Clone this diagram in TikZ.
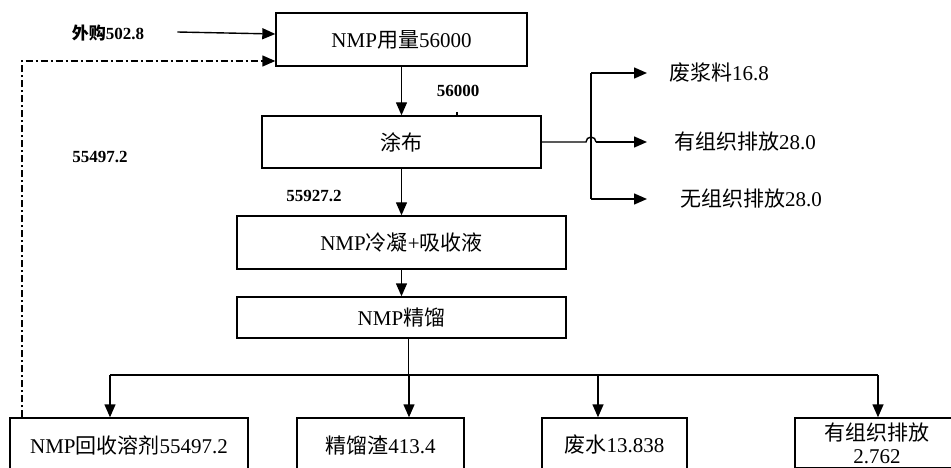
\documentclass[tikz,border=0pt]{standalone}
\usepackage{fontspec}
\setmainfont{Liberation Serif}
\newfontfamily\zhfont{Noto Sans CJK SC}
\newcommand{\zh}[1]{{\zhfont #1}}
\usetikzlibrary{arrows.meta}

\begin{document}
\begin{tikzpicture}[x=1pt,y=-1pt,
  box/.style={draw,line width=1.4pt,inner sep=0pt,font=\fontsize{21}{25}\selectfont},
  flow/.style={line width=1.4pt,-{Triangle[length=13pt,width=11pt]}},
  pipe/.style={line width=1.4pt},
  num/.style={font=\bfseries\fontsize{17}{20}\selectfont,inner sep=0pt},
  outlabel/.style={anchor=west,inner sep=0pt,font=\fontsize{21}{25}\selectfont}]
  \clip (0,0) rectangle (951,468);

  % Main line
  \node[box,minimum width=251pt,minimum height=53pt] (use) at (401.5,39.5) {NMP\zh{用量}56000};
  \node[box,minimum width=279pt,minimum height=52pt] (coat) at (401.5,142) {\zh{涂布}};
  \node[box,minimum width=329pt,minimum height=53pt] (cond) at (401.5,242.5) {NMP\zh{冷凝}+\zh{吸收液}};
  \node[box,minimum width=329pt,minimum height=41pt] (dist) at (401.5,317.5) {NMP\zh{精馏}};

  % Products
  \node[box,minimum width=238pt,minimum height=54pt] (recov) at (129,445) {NMP\zh{回收溶剂}55497.2};
  \node[box,minimum width=167pt,minimum height=54pt] (resid) at (380.5,445) {\zh{精馏渣}413.4};
  \node[box,minimum width=145pt,minimum height=54pt] (water) at (614.5,445) {\zh{废水}13.838};
  \node[box,minimum width=164pt,minimum height=50pt,align=center,font=\fontsize{21}{24}\selectfont] (org) at (877,443) {\zh{有组织排放}\\[-1pt]2.762};

  % Numbers
  \node[num] (buy) at (108,33) {\zh{外购}502.8};
  \node[num] (n1) at (458,91) {56000};
  \node[num] (n2) at (100,157) {55497.2};
  \node[num] (n3) at (314,196) {55927.2};

  % Coating losses
  \node[outlabel] (slurry) at (669,73) {\zh{废浆料}16.8};
  \node[outlabel] (orgA) at (674,142) {\zh{有组织排放}28.0};
  \node[outlabel] (unorg) at (680,199) {\zh{无组织排放}28.0};

  \draw[flow] ([xshift=33pt,yshift=1pt]buy.east) -- (use.west |- 0,34);
  \draw[flow] (use.south) -- (coat.north);
  \draw[pipe] (457,112) -- (457,0 |- coat.north);
  \draw[flow] (coat.south) -- (cond.north);
  \draw[flow] (cond.south) -- (dist.north);

  \draw[pipe] (coat.east) -- (586,142) arc[start angle=180,end angle=0,radius=5pt] -- (596,142);
  \draw[flow] (596,142) -- (647,142);
  \draw[pipe] (591,73) -- (591,199);
  \draw[flow] (591,73) -- (647,73);
  \draw[flow] (591,199) -- (647,199);

  % Bus to products
  \coordinate (busL) at (110,375);
  \coordinate (busR) at (878,375);
  \draw[pipe] ([xshift=7pt]dist.south) -- ([xshift=7pt]dist.south |- busL);
  \draw[pipe] (busL) -- (busR);
  \draw[flow] (busL) -- (busL |- recov.north);
  \draw[flow] (409,375) -- (409,0 |- resid.north);
  \draw[flow] (598,375) -- (598,0 |- water.north);
  \draw[flow] (busR) -- (busR |- org.north);

  % Recycle
  \draw[pipe,dash pattern=on 7pt off 3pt on 2pt off 3pt] (22,0 |- recov.north) -- (22,61) -- (262,61);
  \draw[flow] (262,61) -- (use.west |- 0,61);
\end{tikzpicture}
\end{document}
